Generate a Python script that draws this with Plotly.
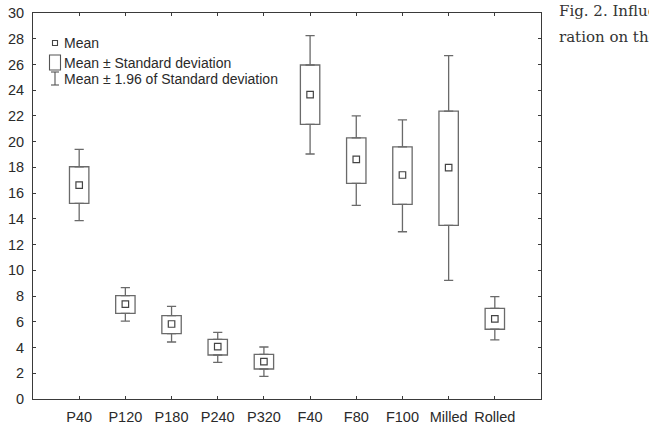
import plotly.graph_objects as go

categories = ["P40", "P120", "P180", "P240", "P320", "F40", "F80", "F100", "Milled", "Rolled"]
mean_vals = [16.63, 7.38, 5.83, 4.07, 2.90, 23.65, 18.63, 17.41, 17.98, 6.22]
box_low = [15.21, 6.66, 5.08, 3.42, 2.33, 21.35, 16.76, 15.13, 13.50, 5.42]
box_high = [18.05, 8.03, 6.48, 4.64, 3.47, 25.96, 20.30, 19.60, 22.38, 7.05]
whisker_low = [13.86, 6.06, 4.43, 2.85, 1.76, 19.04, 15.05, 13.00, 9.22, 4.59]
whisker_high = [19.40, 8.65, 7.20, 5.18, 4.04, 28.24, 22.00, 21.70, 26.68, 7.95]
y_ticks = list(range(0, 31, 2))

xpos = list(range(1, len(categories) + 1))
n = len(categories)

LINE = "#6a6a6a"
AX = "#3a3a3a"
TXT = "#2a2a2a"
SANS = "Liberation Sans, Arial, sans-serif"

box_len = [h - l for h, l in zip(box_high, box_low)]
up_err = [w - h for w, h in zip(whisker_high, box_high)]
down_err = [l - w for l, w in zip(box_low, whisker_low)]
zeros = [0] * n

fig = go.Figure()
fig.add_trace(go.Bar(
    x=xpos, y=box_len, base=box_low, width=0.42,
    marker=dict(color="white", line=dict(color=LINE, width=1.3)),
    showlegend=False, hoverinfo="skip",
))
fig.add_trace(go.Scatter(
    x=xpos, y=box_high, mode="markers", marker=dict(size=0.1, opacity=0),
    error_y=dict(type="data", symmetric=False, array=up_err, arrayminus=zeros,
                 width=4.6, thickness=1.3, color=LINE),
    showlegend=False, hoverinfo="skip",
))
fig.add_trace(go.Scatter(
    x=xpos, y=box_low, mode="markers", marker=dict(size=0.1, opacity=0),
    error_y=dict(type="data", symmetric=False, array=zeros, arrayminus=down_err,
                 width=4.6, thickness=1.3, color=LINE),
    showlegend=False, hoverinfo="skip",
))
fig.add_trace(go.Scatter(
    x=xpos, y=mean_vals, mode="markers",
    marker=dict(symbol="square-open", size=6.5, color="#444444", line=dict(width=1.2, color="#444444")),
    showlegend=False,
))

# plot area in pixels
L, R, T, B = 33, 541, 13, 399
def px(x):
    return (x - L) / (R - L)
def py(y):
    return (B - y) / (B - T)

shapes = []
shapes.append(dict(type="rect", xref="paper", yref="paper", x0=px(52.5), x1=px(57.5), y0=py(45.5), y1=py(40.5),
                   line=dict(color="#444", width=1.1)))
shapes.append(dict(type="rect", xref="paper", yref="paper", x0=px(49.5), x1=px(60.5), y0=py(70), y1=py(55),
                   line=dict(color="#555", width=1.1)))
shapes.append(dict(type="line", xref="paper", yref="paper", x0=px(55), x1=px(55), y0=py(85), y1=py(72),
                   line=dict(color="#555", width=1.1)))
shapes.append(dict(type="line", xref="paper", yref="paper", x0=px(51), x1=px(59), y0=py(72), y1=py(72),
                   line=dict(color="#555", width=1.1)))
shapes.append(dict(type="line", xref="paper", yref="paper", x0=px(51), x1=px(59), y0=py(85), y1=py(85),
                   line=dict(color="#555", width=1.1)))

annotations = []
for txt, yy in [("Mean", 43.5), ("Mean ± Standard deviation", 62.5), ("Mean ± 1.96 of Standard deviation", 78.5)]:
    annotations.append(dict(text=txt, xref="paper", yref="paper", x=px(62), y=py(yy), xanchor="left", yanchor="middle",
                            showarrow=False, font=dict(family=SANS, size=14, color=TXT)))
for txt, yy in [("Fig. 2. Influence", 11), ("ration on the", 37)]:
    annotations.append(dict(text=txt, xref="paper", yref="paper", x=px(557), y=py(yy), xanchor="left", yanchor="middle",
                            showarrow=False, font=dict(family="DejaVu Serif", size=15, color="#333333")))

fig.update_layout(
    width=649, height=426,
    margin=dict(l=L, r=649 - R, t=T, b=426 - B, autoexpand=False),
    paper_bgcolor="white", plot_bgcolor="white",
    shapes=shapes, annotations=annotations,
    showlegend=False, barmode="overlay",
)
fig.update_xaxes(
    range=[0, 11], tickvals=xpos, ticktext=categories,
    showline=True, linecolor=AX, linewidth=1, mirror="allticks",
    ticks="inside", ticklen=3, tickcolor=AX, showgrid=False, zeroline=False,
    ticklabelstandoff=5, automargin=False,
    tickfont=dict(family=SANS, size=14.5, color=TXT),
)
fig.update_yaxes(
    range=[0, 30], tickvals=y_ticks,
    showline=True, linecolor=AX, linewidth=1, mirror="allticks",
    ticks="inside", ticklen=3, tickcolor=AX, showgrid=False, zeroline=False,
    ticklabelstandoff=5, automargin=False,
    tickfont=dict(family=SANS, size=14.5, color=TXT),
)

fig.write_html("out.html")
